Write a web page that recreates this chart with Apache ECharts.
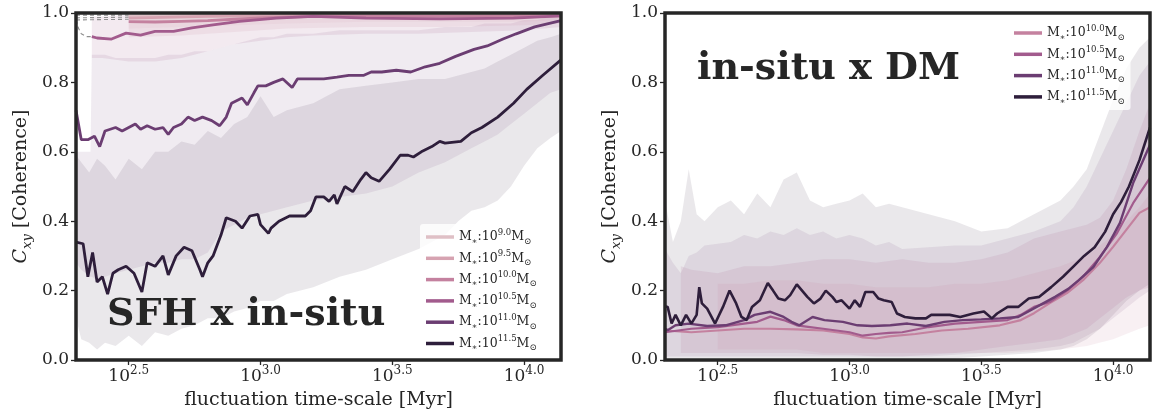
<!DOCTYPE html>
<html>
<head>
<meta charset="utf-8">
<script src="https://cdn.jsdelivr.net/npm/echarts@6/dist/echarts.min.js"></script>
<style>
  html, body { margin: 0; padding: 0; background: #fff; }
  #chart { width: 1153px; height: 416px; }
</style>
</head>
<body>
<div id="chart"></div>
<script>
// x values are log10(time-scale / Myr)
const xTicks = [2.5, 3.0, 3.5, 4.0];
const massNames = ['9.0', '9.5', '10.0', '10.5', '11.0', '11.5'];
const massColors = ['#dfc0c6', '#d6a3b1', '#c4819f', '#a25b8d', '#6b3d72', '#2e1e3b'];

// ---------- left panel: SFH x in-situ ----------
const sfhLine90 = [[2.5, 0.99], [2.8, 0.993], [3.2, 0.995], [3.6, 0.995], [4.14, 0.996]];
const sfhLine95 = [[2.5, 0.985], [2.8, 0.99], [3.2, 0.993], [3.6, 0.992], [4.14, 0.994]];
const sfhLine100 = [[2.5, 0.975], [2.6, 0.974], [2.7, 0.976], [2.8, 0.978], [2.9, 0.982], [3.0, 0.986],
  [3.2, 0.99], [3.5, 0.99], [3.8, 0.99], [4.14, 0.992]];
const sfhLine105 = [[2.36, 0.932], [2.38, 0.928], [2.435, 0.925], [2.49, 0.942], [2.545, 0.936], [2.6, 0.947],
  [2.67, 0.947], [2.74, 0.957], [2.82, 0.966], [2.92, 0.976], [3.06, 0.985], [3.2, 0.99], [3.4, 0.985],
  [3.68, 0.983], [3.96, 0.985], [4.14, 0.992]];
const sfhLine110 = [[2.3, 0.72], [2.32, 0.635], [2.345, 0.635], [2.37, 0.645], [2.39, 0.615], [2.41, 0.66],
  [2.45, 0.67], [2.475, 0.66], [2.5, 0.67], [2.525, 0.68], [2.545, 0.665], [2.57, 0.675], [2.6, 0.665],
  [2.63, 0.67], [2.65, 0.65], [2.67, 0.67], [2.7, 0.68], [2.725, 0.7], [2.75, 0.69], [2.78, 0.7],
  [2.815, 0.69], [2.845, 0.675], [2.87, 0.7], [2.89, 0.74], [2.93, 0.755], [2.95, 0.735], [2.975, 0.77],
  [2.99, 0.79], [3.02, 0.79], [3.05, 0.8], [3.085, 0.81], [3.12, 0.785], [3.14, 0.81], [3.18, 0.81],
  [3.24, 0.81], [3.29, 0.815], [3.335, 0.82], [3.39, 0.82], [3.42, 0.83], [3.46, 0.83], [3.515, 0.835],
  [3.57, 0.83], [3.625, 0.845], [3.68, 0.855], [3.74, 0.875], [3.81, 0.895], [3.86, 0.905], [3.92, 0.925],
  [3.97, 0.94], [4.04, 0.96], [4.14, 0.978]];
const sfhLine115 = [[2.3, 0.34], [2.327, 0.335], [2.345, 0.24], [2.363, 0.31], [2.38, 0.225], [2.4, 0.24],
  [2.42, 0.19], [2.44, 0.25], [2.46, 0.26], [2.49, 0.27], [2.52, 0.25], [2.55, 0.196], [2.57, 0.28],
  [2.6, 0.27], [2.63, 0.3], [2.65, 0.245], [2.68, 0.3], [2.71, 0.325], [2.74, 0.315], [2.77, 0.26],
  [2.78, 0.24], [2.8, 0.28], [2.82, 0.3], [2.85, 0.36], [2.87, 0.41], [2.905, 0.4], [2.93, 0.38],
  [2.96, 0.415], [2.99, 0.42], [3.0, 0.39], [3.03, 0.365], [3.04, 0.38], [3.07, 0.4], [3.11, 0.415],
  [3.17, 0.415], [3.19, 0.43], [3.21, 0.47], [3.24, 0.47], [3.26, 0.457], [3.28, 0.476], [3.29, 0.45],
  [3.32, 0.5], [3.35, 0.485], [3.38, 0.52], [3.4, 0.54], [3.42, 0.525], [3.45, 0.515], [3.49, 0.55],
  [3.53, 0.59], [3.56, 0.59], [3.58, 0.585], [3.61, 0.6], [3.65, 0.615], [3.68, 0.63], [3.7, 0.625],
  [3.76, 0.63], [3.8, 0.655], [3.84, 0.67], [3.9, 0.7], [3.96, 0.74], [4.01, 0.78], [4.07, 0.82], [4.14, 0.865]];
// short-time parts shown dashed in grey
const sfhDash90 = [[2.3, 0.994], [2.5, 0.994]];
const sfhDash95 = [[2.3, 0.986], [2.5, 0.988]];
const sfhDash100 = [[2.3, 0.98], [2.5, 0.982]];
const sfhDash105 = [[2.3, 0.98], [2.31, 0.955], [2.32, 0.94], [2.34, 0.932], [2.36, 0.932]];

// percentile bands
const sfhBandX = [2.3, 2.32, 2.35, 2.38, 2.41, 2.45, 2.5, 2.55, 2.6, 2.65, 2.7, 2.75, 2.8, 2.85, 2.9, 2.95,
  3.0, 3.05, 3.1, 3.2, 3.3, 3.4, 3.5, 3.6, 3.7, 3.75, 3.8, 3.85, 3.9, 3.95, 4.0, 4.05, 4.1, 4.14];
const sfhLo115 = [0.12, 0.06, 0.05, 0.03, 0.05, 0.04, 0.07, 0.04, 0.08, 0.07, 0.09, 0.1, 0.12, 0.12, 0.14, 0.15,
  0.17, 0.17, 0.19, 0.21, 0.24, 0.26, 0.29, 0.32, 0.36, 0.4, 0.43, 0.44, 0.46, 0.5, 0.56, 0.61, 0.64, 0.66];
const sfhHi115 = [0.59, 0.57, 0.54, 0.58, 0.56, 0.52, 0.58, 0.55, 0.6, 0.6, 0.63, 0.62, 0.66, 0.64, 0.68, 0.7,
  0.76, 0.7, 0.72, 0.74, 0.78, 0.79, 0.8, 0.81, 0.81, 0.82, 0.83, 0.84, 0.86, 0.88, 0.9, 0.92, 0.93, 0.94];
const sfhBandX110 = [2.3, 2.32, 2.355, 2.36, 2.38, 2.41, 2.45, 2.5, 2.55, 2.6, 2.65, 2.7, 2.75, 2.8, 2.85, 2.9,
  2.95, 3.0, 3.05, 3.1, 3.2, 3.3, 3.4, 3.5, 3.6, 3.7, 3.75, 3.8, 3.85, 3.9, 3.95, 4.0, 4.05, 4.1, 4.14];
const sfhLo110 = [0.28, 0.26, 0.24, 0.24, 0.23, 0.24, 0.25, 0.26, 0.27, 0.28, 0.28, 0.29, 0.29, 0.31, 0.37, 0.39,
  0.41, 0.42, 0.43, 0.44, 0.46, 0.47, 0.48, 0.5, 0.54, 0.57, 0.59, 0.61, 0.63, 0.65, 0.68, 0.71, 0.74, 0.77, 0.78];
const sfhHi110 = [0.6, 0.6, 0.6, 0.88, 0.88, 0.88, 0.87, 0.87, 0.87, 0.87, 0.88, 0.88, 0.89, 0.89, 0.9, 0.91,
  0.92, 0.93, 0.93, 0.94, 0.94, 0.95, 0.95, 0.95, 0.95, 0.96, 0.96, 0.96, 0.97, 0.97, 0.97, 0.98, 0.98, 0.99, 0.99];
const sfhBandX105 = [2.36, 2.4, 2.5, 2.6, 2.7, 2.8, 2.9, 3.0, 3.1, 3.2, 3.4, 3.6, 3.8, 4.0, 4.14];
const sfhLo105 = [0.87, 0.87, 0.86, 0.86, 0.87, 0.89, 0.91, 0.92, 0.93, 0.935, 0.94, 0.94, 0.945, 0.95, 0.96];
const sfhHi105 = [0.99, 0.99, 0.995, 0.995, 0.997, 1, 1, 1, 1, 1, 1, 1, 1, 1, 1];
const sfhBandXLow = [2.5, 2.7, 2.9, 3.1, 3.4, 3.7, 4.0, 4.14];
const sfhLo100 = [0.93, 0.935, 0.945, 0.955, 0.96, 0.96, 0.965, 0.97];
const sfhLo95 = [0.955, 0.96, 0.965, 0.97, 0.975, 0.975, 0.975, 0.98];
const sfhLo90 = [0.97, 0.975, 0.98, 0.985, 0.985, 0.985, 0.985, 0.99];
const sfhHiLow = [1, 1, 1, 1, 1, 1, 1, 1];

// ---------- right panel: in-situ x DM ----------
const dmLine100 = [[2.3, 0.085], [2.4, 0.08], [2.5, 0.085], [2.6, 0.09], [2.7, 0.09], [2.8, 0.088], [2.9, 0.085],
  [3.0, 0.075], [3.05, 0.065], [3.1, 0.062], [3.15, 0.068], [3.25, 0.075], [3.35, 0.085], [3.45, 0.09],
  [3.57, 0.1], [3.65, 0.115], [3.7, 0.135], [3.76, 0.164], [3.825, 0.193], [3.886, 0.23], [3.95, 0.28],
  [4.0, 0.326], [4.05, 0.375], [4.1, 0.424], [4.14, 0.44]];
const dmLine105 = [[2.3, 0.08], [2.35, 0.085], [2.4, 0.09], [2.5, 0.095], [2.6, 0.105], [2.65, 0.11], [2.7, 0.125],
  [2.75, 0.115], [2.8, 0.1], [2.85, 0.095], [2.9, 0.09], [2.95, 0.085], [3.0, 0.08], [3.05, 0.07], [3.1, 0.075],
  [3.15, 0.078], [3.2, 0.08], [3.3, 0.095], [3.4, 0.105], [3.5, 0.11], [3.6, 0.115], [3.65, 0.13], [3.7, 0.153],
  [3.76, 0.167], [3.825, 0.2], [3.886, 0.24], [3.95, 0.297], [4.015, 0.366], [4.076, 0.452], [4.14, 0.525]];
const dmLine110 = [[2.3, 0.09], [2.31, 0.086], [2.34, 0.1], [2.39, 0.105], [2.46, 0.098], [2.53, 0.1], [2.6, 0.115],
  [2.64, 0.13], [2.7, 0.139], [2.73, 0.13], [2.75, 0.124], [2.78, 0.11], [2.81, 0.1], [2.86, 0.124], [2.905, 0.115],
  [2.975, 0.11], [3.03, 0.1], [3.085, 0.098], [3.155, 0.1], [3.22, 0.105], [3.29, 0.098], [3.36, 0.11],
  [3.43, 0.115], [3.5, 0.117], [3.57, 0.12], [3.64, 0.124], [3.71, 0.153], [3.78, 0.182], [3.83, 0.205],
  [3.87, 0.23], [3.925, 0.268], [3.977, 0.326], [4.026, 0.395], [4.076, 0.51], [4.14, 0.62]];
const dmLine115 = [[2.3, 0.155], [2.31, 0.153], [2.325, 0.105], [2.34, 0.13], [2.36, 0.1], [2.38, 0.13], [2.4, 0.105],
  [2.42, 0.13], [2.43, 0.21], [2.44, 0.163], [2.46, 0.148], [2.49, 0.105], [2.52, 0.153], [2.545, 0.2],
  [2.57, 0.163], [2.59, 0.124], [2.61, 0.115], [2.63, 0.153], [2.66, 0.172], [2.69, 0.222], [2.71, 0.2],
  [2.73, 0.177], [2.755, 0.172], [2.775, 0.187], [2.8, 0.218], [2.82, 0.2], [2.84, 0.182], [2.865, 0.163],
  [2.89, 0.177], [2.91, 0.2], [2.935, 0.182], [2.95, 0.167], [2.97, 0.172], [3.0, 0.148], [3.02, 0.172],
  [3.04, 0.153], [3.06, 0.196], [3.09, 0.196], [3.11, 0.177], [3.13, 0.172], [3.16, 0.167], [3.18, 0.134],
  [3.21, 0.124], [3.25, 0.12], [3.29, 0.12], [3.31, 0.13], [3.35, 0.13], [3.38, 0.13], [3.42, 0.124],
  [3.47, 0.134], [3.51, 0.14], [3.54, 0.12], [3.56, 0.134], [3.6, 0.153], [3.64, 0.153], [3.68, 0.177],
  [3.72, 0.182], [3.765, 0.21], [3.81, 0.24], [3.85, 0.27], [3.89, 0.3], [3.93, 0.325], [3.97, 0.37],
  [4.0, 0.42], [4.03, 0.455], [4.06, 0.5], [4.1, 0.576], [4.14, 0.67]];

const dmBandX = [2.3, 2.33, 2.36, 2.39, 2.42, 2.45, 2.5, 2.55, 2.6, 2.65, 2.7, 2.75, 2.8, 2.85, 2.9, 2.95,
  3.0, 3.05, 3.1, 3.15, 3.2, 3.3, 3.4, 3.5, 3.6, 3.7, 3.8, 3.85, 3.9, 3.95, 4.0, 4.05, 4.1, 4.14];
const dmHi115 = [0.46, 0.34, 0.4, 0.55, 0.42, 0.4, 0.44, 0.46, 0.42, 0.48, 0.44, 0.52, 0.54, 0.46, 0.44, 0.45,
  0.46, 0.48, 0.44, 0.45, 0.44, 0.42, 0.4, 0.37, 0.38, 0.42, 0.46, 0.5, 0.55, 0.65, 0.75, 0.84, 0.9, 0.93];
const dmLo115 = [0.005, 0.005, 0.005, 0.005, 0.005, 0.005, 0.005, 0.005, 0.005, 0.005, 0.005, 0.005, 0.005, 0.005,
  0.005, 0.005, 0.005, 0.005, 0.005, 0.005, 0.005, 0.005, 0.005, 0.01, 0.015, 0.02, 0.03, 0.04, 0.06, 0.09,
  0.13, 0.17, 0.2, 0.22];
const dmHi110 = [0.32, 0.28, 0.25, 0.3, 0.31, 0.33, 0.335, 0.34, 0.36, 0.35, 0.37, 0.36, 0.38, 0.36, 0.37, 0.35,
  0.36, 0.35, 0.33, 0.34, 0.32, 0.325, 0.33, 0.33, 0.35, 0.37, 0.4, 0.44, 0.5, 0.58, 0.66, 0.74, 0.82, 0.86];
const dmLo110 = [0.01, 0.01, 0.01, 0.01, 0.01, 0.01, 0.01, 0.01, 0.01, 0.01, 0.01, 0.01, 0.01, 0.01, 0.01, 0.01,
  0.01, 0.01, 0.01, 0.01, 0.01, 0.01, 0.015, 0.02, 0.025, 0.03, 0.04, 0.05, 0.07, 0.09, 0.12, 0.15, 0.18, 0.2];
const dmBandX105 = [2.36, 2.4, 2.5, 2.6, 2.7, 2.8, 2.9, 3.0, 3.1, 3.2, 3.3, 3.4, 3.5, 3.6, 3.7, 3.8, 3.9, 3.95,
  4.0, 4.05, 4.1, 4.14];
const dmHi105 = [0.27, 0.26, 0.25, 0.27, 0.27, 0.28, 0.29, 0.29, 0.28, 0.29, 0.28, 0.28, 0.29, 0.31, 0.35, 0.37,
  0.39, 0.41, 0.46, 0.55, 0.66, 0.74];
const dmLo105 = [0.02, 0.02, 0.02, 0.02, 0.02, 0.02, 0.015, 0.015, 0.01, 0.01, 0.015, 0.02, 0.03, 0.04, 0.05, 0.06,
  0.09, 0.12, 0.15, 0.18, 0.2, 0.21];
const dmBandX100 = [2.5, 2.6, 2.7, 2.8, 2.9, 3.0, 3.1, 3.2, 3.3, 3.4, 3.5, 3.6, 3.7, 3.8, 3.9, 4.0, 4.1, 4.14];
const dmHi100 = [0.22, 0.22, 0.23, 0.23, 0.22, 0.22, 0.21, 0.21, 0.21, 0.22, 0.22, 0.23, 0.25, 0.27, 0.3, 0.36, 0.44, 0.48];
const dmLo100 = [0.03, 0.03, 0.03, 0.03, 0.02, 0.02, 0.02, 0.02, 0.02, 0.02, 0.02, 0.02, 0.025, 0.03, 0.04, 0.06, 0.09, 0.1];

const FONT = 'DejaVu Serif';
const INK = '#262626';

function rgba(hex, a) {
  const n = parseInt(hex.slice(1), 16);
  return 'rgba(' + (n >> 16) + ',' + ((n >> 8) & 255) + ',' + (n & 255) + ',' + a + ')';
}

// shaded band between lo and hi, drawn as one polygon through the axis scales
function band(gi, xs, lo, hi, color, alpha) {
  return {
    type: 'custom', xAxisIndex: gi, yAxisIndex: gi, z: 1, silent: true, clip: true,
    data: xs.map((x, i) => [x, lo[i], hi[i]]),
    encode: { x: 0, y: [1, 2] },
    renderItem: function (params, api) {
      if (params.dataIndex !== 0) return null;
      const top = xs.map((x, i) => api.coord([x, hi[i]]));
      const bottom = xs.map((x, i) => api.coord([x, lo[i]])).reverse();
      return { type: 'polygon', shape: { points: top.concat(bottom) }, style: { fill: rgba(color, alpha) } };
    }
  };
}

function line(gi, name, data, color, width) {
  return {
    type: 'line', name: name, xAxisIndex: gi, yAxisIndex: gi, z: 3,
    data: data, showSymbol: false, symbol: 'none', color: color,
    lineStyle: { color: color, width: width || 2.8 },
    itemStyle: { color: color }
  };
}

function dashed(gi, data) {
  return {
    type: 'line', xAxisIndex: gi, yAxisIndex: gi, z: 2, data: data, showSymbol: false, symbol: 'none',
    silent: true, lineStyle: { color: '#8e8e8e', width: 1.1, type: [4, 3] }
  };
}

const labelRich = {
  b: { fontFamily: FONT, fontSize: 17, color: INK, lineHeight: 24 },
  s: { fontFamily: FONT, fontSize: 12, color: INK, lineHeight: 13, verticalAlign: 'top' }
};
const nameRich = {
  i: { fontFamily: FONT, fontSize: 19, fontStyle: 'italic', color: INK, lineHeight: 26 },
  s: { fontFamily: FONT, fontSize: 13, fontStyle: 'italic', color: INK, lineHeight: 14, verticalAlign: 'bottom' },
  t: { fontFamily: FONT, fontSize: 19, color: INK, lineHeight: 26 }
};
const legendRich = {
  t: { fontFamily: FONT, fontSize: 12.5, color: INK, lineHeight: 18 },
  sub: { fontFamily: FONT, fontSize: 8.5, color: INK, lineHeight: 10, verticalAlign: 'bottom' },
  sup: { fontFamily: FONT, fontSize: 8.5, color: INK, lineHeight: 10, verticalAlign: 'top' }
};

function xAxis(gi) {
  return {
    gridIndex: gi, type: 'value', min: 2.3, max: 4.14,
    axisLine: { show: false },
    axisTick: { show: true, customValues: xTicks, length: 5, lineStyle: { color: INK, width: 1.3 } },
    axisLabel: {
      customValues: xTicks, margin: 5,
      formatter: v => '{b|10}{s|' + v.toFixed(1) + '}', rich: labelRich
    },
    splitLine: { show: false },
    name: 'fluctuation time-scale [Myr]', nameLocation: 'middle', nameGap: 29,
    nameTextStyle: { fontFamily: FONT, fontSize: 19, color: INK }
  };
}

function yAxis(gi) {
  return {
    gridIndex: gi, type: 'value', min: 0, max: 1, interval: 0.2,
    axisLine: { show: false },
    axisTick: { show: true, length: 5, lineStyle: { color: INK, width: 1.3 } },
    axisLabel: { formatter: v => v.toFixed(1), fontFamily: FONT, fontSize: 17, color: INK, margin: 7 },
    splitLine: { show: false },
    name: '{i|C}{s|xy}{t| [Coherence]}', nameLocation: 'middle', nameGap: 42, nameRotate: 90,
    nameTextStyle: { rich: nameRich }
  };
}

function legend(left, top, names) {
  return {
    orient: 'vertical', left: left, top: top, data: names,
    icon: 'rect', itemWidth: 28, itemHeight: 3.5, itemGap: 3.3,
    padding: [4, 6, 4, 6], backgroundColor: 'rgba(255,255,255,0.8)', borderRadius: 3,
    selectedMode: false,
    formatter: e => '{t|M}{sub|∗}{t|:10}{sup|' + e + '}{t|M}{sub|⊙}',
    textStyle: { rich: legendRich }
  };
}

const series = [
  // left bands
  band(0, sfhBandX, sfhLo115, sfhHi115, massColors[5], 0.1),
  band(0, sfhBandX110, sfhLo110, sfhHi110, massColors[4], 0.1),
  band(0, sfhBandX105, sfhLo105, sfhHi105, massColors[3], 0.13),
  band(0, sfhBandXLow, sfhLo100, sfhHiLow, massColors[2], 0.12),
  band(0, sfhBandXLow, sfhLo95, sfhHiLow, massColors[1], 0.12),
  band(0, sfhBandXLow, sfhLo90, sfhHiLow, massColors[0], 0.12),
  dashed(0, sfhDash90), dashed(0, sfhDash95), dashed(0, sfhDash100), dashed(0, sfhDash105),
  line(0, '9.0', sfhLine90, massColors[0]),
  line(0, '9.5', sfhLine95, massColors[1]),
  line(0, '10.0', sfhLine100, massColors[2]),
  line(0, '10.5', sfhLine105, massColors[3]),
  line(0, '11.0', sfhLine110, massColors[4]),
  line(0, '11.5', sfhLine115, massColors[5]),
  // right bands
  band(1, dmBandX, dmLo115, dmHi115, massColors[5], 0.1),
  band(1, dmBandX, dmLo110, dmHi110, massColors[4], 0.1),
  band(1, dmBandX105, dmLo105, dmHi105, massColors[3], 0.12),
  band(1, dmBandX100, dmLo100, dmHi100, massColors[2], 0.12),
  line(1, '10.0', dmLine100, massColors[2], 2.2),
  line(1, '10.5', dmLine105, massColors[3], 2.2),
  line(1, '11.0', dmLine110, massColors[4], 2.4),
  line(1, '11.5', dmLine115, massColors[5], 2.6)
];

const chart = echarts.init(document.getElementById('chart'), null, { renderer: 'canvas' });
chart.setOption({
  animation: false,
  backgroundColor: '#fff',
  grid: [
    { left: 76, top: 13, width: 485, height: 347, show: true, z: 10, borderColor: INK, borderWidth: 3.5, backgroundColor: 'transparent' },
    { left: 665, top: 13, width: 485, height: 347, show: true, z: 10, borderColor: INK, borderWidth: 3.5, backgroundColor: 'transparent' }
  ],
  xAxis: [xAxis(0), xAxis(1)],
  yAxis: [yAxis(0), yAxis(1)],
  legend: [
    legend(420, 224, massNames),
    legend(1008, 20, massNames.slice(2))
  ],
  graphic: [
    { type: 'text', left: 107, top: 296, z: 20, style: { text: 'SFH x in-situ', font: 'bold 38px "DejaVu Serif"', fill: INK } },
    { type: 'text', left: 697, top: 50, z: 20, style: { text: 'in-situ x DM', font: 'bold 38px "DejaVu Serif"', fill: INK } }
  ],
  series: series
});
</script>
</body>
</html>
